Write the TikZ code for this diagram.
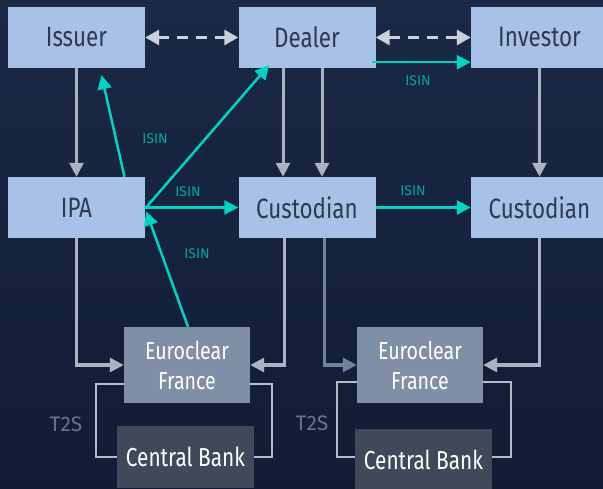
\documentclass[tikz,border=0pt]{standalone}
\usepackage{fontspec}
\setmainfont{Fira Sans}[FakeStretch=0.8]
\newfontfamily\labelfont{Fira Sans}
\usetikzlibrary{arrows.meta}

\definecolor{navytop}{HTML}{1A2946}
\definecolor{navybottom}{HTML}{111C34}
\definecolor{partyblue}{HTML}{A8C1E6}
\definecolor{partytext}{HTML}{2E3A50}
\definecolor{csdgray}{HTML}{7F8FA6}
\definecolor{bankgray}{HTML}{404959}
\definecolor{flowgray}{HTML}{AAB3C1}
\definecolor{flowdark}{HTML}{71819B}
\definecolor{loopgray}{HTML}{B4BCC8}
\definecolor{dashgray}{HTML}{C9D1DD}
\definecolor{isincyan}{HTML}{00D4C4}
\definecolor{isinteal}{HTML}{00A89F}
\definecolor{t2stext}{HTML}{65738C}

\begin{document}
\begin{tikzpicture}[
  x=1pt, y=-1pt,
  party/.style={fill=partyblue, text=partytext, inner sep=0pt,
    minimum width=137pt, minimum height=61pt, font=\fontsize{28}{28}\selectfont},
  csd/.style={fill=csdgray, text=white, inner sep=0pt, align=center,
    minimum width=126pt, minimum height=76pt, font=\fontsize{24.5}{30}\selectfont},
  bank/.style={fill=bankgray, text=white, inner sep=0pt,
    minimum width=137pt, minimum height=62pt, font=\fontsize{26}{26}\selectfont},
  flow/.style={draw=flowgray, line width=3pt, -{Triangle[length=14pt,width=14pt]}},
  agree/.style={draw=dashgray, line width=3pt, dash pattern=on 11pt off 8pt,
    {Triangle[length=14pt,width=15pt]}-{Triangle[length=14pt,width=15pt]}},
  code/.style={draw=isincyan, line width=2.5pt, -{Triangle[length=14pt,width=14pt]}},
  codelabel/.style={text=isinteal, font=\labelfont\fontsize{14}{14}\selectfont},
  loop/.style={draw=loopgray, line width=2pt},
  looplabel/.style={text=t2stext, font=\labelfont\fontsize{21}{21}\selectfont}
]

% Achtergrond
\shade[top color=navytop, bottom color=navybottom] (0,0) rectangle (603,489);
\useasboundingbox (0,0) rectangle (603,489);

% Partijen
\node[party] (issuer)     at (76.5,37.5)  {Issuer};
\node[party] (dealer)     at (307,37.5)   {Dealer};
\node[party] (investor)   at (539.5,37.5) {Investor};
\node[party] (ipa)        at (76.5,207.5) {IPA};
\node[party] (custodian1) at (307,207.5)  {Custodian};
\node[party] (custodian2) at (539.5,207.5){Custodian};

% Euroclear en centrale banken
\node[csd]  (euroclear1) at (187,365)   {Euroclear\\France};
\node[csd]  (euroclear2) at (420,365)   {Euroclear\\France};
\node[bank] (central1)   at (185.5,457) {Central Bank};
\node[bank] (central2)   at (423.5,460) {Central Bank};

% Afspraken
\draw[agree] (issuer.east) -- (dealer.west);
\draw[agree] (dealer.east) -- (investor.west);

% Effectenstroom
\draw[flow] (issuer.south) -- (ipa.north);
\draw[flow] ([xshift=-24pt]dealer.south) -- ([xshift=-24pt]custodian1.north);
\draw[flow] ([xshift=15pt]dealer.south) -- ([xshift=15pt]custodian1.north);
\draw[flow] (investor.south) -- (custodian2.north);
\draw[flow] (ipa.south) |- (euroclear1.west);
\draw[flow] ([xshift=-23pt]custodian1.south) |- (euroclear1.east);
\draw[flow, draw=flowdark] ([xshift=17pt]custodian1.south) |- (euroclear2.west);
\draw[flow] (custodian2.south) |- (euroclear2.east);

% T2S
\draw[loop] ([yshift=-19pt]euroclear1.west) -- ++(-28,0) |- (central1.west);
\draw[loop] ([yshift=-19pt]euroclear1.east) -- ++(22,0) |- (central1.east);
\draw[loop] ([yshift=-17pt]euroclear2.west) -- ++(-20,0) |- ([yshift=3pt]central2.west);
\draw[loop] ([yshift=-17pt]euroclear2.east) -- ++(28,0) |- ([yshift=3pt]central2.east);
\node[looplabel] (t2s1) at (66,424)  {T2S};
\node[looplabel] (t2s2) at (312,423) {T2S};

% ISIN
\coordinate (ipahub) at ([yshift=-1pt]ipa.east);
\draw[code] ([xshift=48pt]ipa.north) -- ([xshift=25pt,yshift=-7pt]issuer.south);
\draw[code] (ipahub) -- ([xshift=-38pt,yshift=3pt]dealer.south);
\draw[code] (ipa.east) -- (custodian1.west);
\draw[code] ([xshift=1pt]euroclear1.north) -- ([xshift=1pt,yshift=-3pt]ipahub);
\draw[code] (custodian1.east) -- (custodian2.west);
\draw[code] ([xshift=-4pt,yshift=6pt]dealer.south east) -- ([yshift=6pt]investor.south west);
\node[codelabel] (isin1) at (155,139) {ISIN};
\node[codelabel] (isin2) at (188,192) {ISIN};
\node[codelabel] (isin3) at (197,254) {ISIN};
\node[codelabel] (isin4) at (413,191) {ISIN};
\node[codelabel] (isin5) at (418,81)  {ISIN};

\end{tikzpicture}
\end{document}
